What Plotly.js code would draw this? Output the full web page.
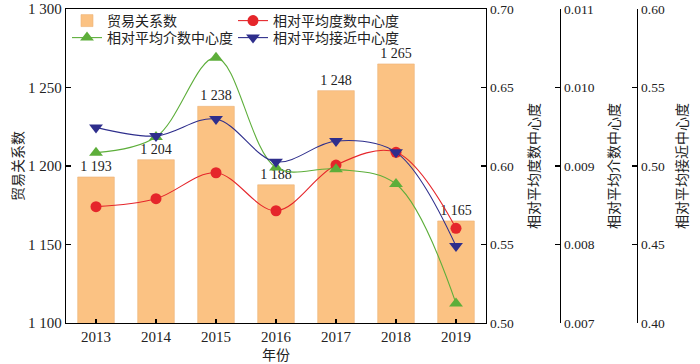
<!DOCTYPE html>
<html>
<head>
<meta charset="utf-8">
<script src="https://cdn.plot.ly/plotly-3.0.1.min.js"></script>
<style>html,body{margin:0;padding:0;background:#fff;}#chart{width:700px;height:364px;}</style>
</head>
<body>
<div id="chart"></div>
<script>
const years = ['2013','2014','2015','2016','2017','2018','2019'];
const tradeRelations = [1193, 1204, 1238, 1188, 1248, 1265, 1165];
const degreeCentrality = [0.5741, 0.5792, 0.5957, 0.5715, 0.6006, 0.6087, 0.5603];
const betweennessCentrality = [0.00917, 0.00937, 0.01038, 0.00898, 0.00896, 0.00877, 0.00725];
const closenessCentrality = [0.5246, 0.5191, 0.5299, 0.5027, 0.5159, 0.5087, 0.4490];
const leftTicks = [1100, 1150, 1200, 1250, 1300];

const fmt = v => String(v).replace(/\B(?=(\d{3})+(?!\d))/g, ' ');
const FONT = "'Liberation Serif', 'Noto Sans CJK SC', serif";
const TXT = '#222';

const traces = [
  {
    type: 'bar', x: years, y: tradeRelations, name: '贸易关系数',
    marker: {color: '#FBC283', line: {color: '#EDB277', width: 0.6}},
    width: 0.61,
    text: tradeRelations.map(fmt), textposition: 'outside', cliponaxis: false,
    textfont: {family: FONT, size: 14, color: TXT},
    legend: 'legend', yaxis: 'y'
  },
  {
    type: 'scatter', mode: 'lines+markers', x: years, y: degreeCentrality, name: '相对平均度数中心度',
    line: {color: '#E5262B', width: 1.1, shape: 'spline'},
    marker: {color: '#E5262B', size: 11, symbol: 'circle'},
    legend: 'legend', yaxis: 'y2'
  },
  {
    type: 'scatter', mode: 'lines+markers', x: years, y: betweennessCentrality, name: '相对平均介数中心度',
    line: {color: '#5DAE3A', width: 1.1, shape: 'spline'},
    marker: {color: '#5DAE3A', size: 12, symbol: 'triangle-up'},
    legend: 'legend2', yaxis: 'y3'
  },
  {
    type: 'scatter', mode: 'lines+markers', x: years, y: closenessCentrality, name: '相对平均接近中心度',
    line: {color: '#2E2E8C', width: 1.1, shape: 'spline'},
    marker: {color: '#2E2E8C', size: 12, symbol: 'triangle-down'},
    legend: 'legend2', yaxis: 'y4'
  }
];

const dom = 420 / 571;
const axisCommon = {
  showline: true, linecolor: '#000', linewidth: 1.3, ticks: 'inside', ticklen: 5,
  tickcolor: '#000', tickwidth: 1.3, showgrid: false, zeroline: false, automargin: false,
  tickfont: {family: FONT, size: 13.5, color: TXT}
};
const tfont = {family: FONT, size: 14, color: TXT};

const layout = {
  width: 700, height: 364,
  margin: {l: 66, r: 63, t: 9, b: 41, autoexpand: false},
  paper_bgcolor: '#fff', plot_bgcolor: '#fff',
  font: {family: FONT, size: 14, color: TXT},
  xaxis: Object.assign({}, axisCommon, {
    type: 'category', domain: [0, dom], mirror: true, ticklen: 4,
    tickfont: {family: FONT, size: 15, color: TXT},
    title: {text: '年份', font: tfont, standoff: 6}
  }),
  yaxis: Object.assign({}, axisCommon, {
    range: [1100, 1300], tickvals: leftTicks, ticktext: leftTicks.map(fmt),
    tickfont: {family: FONT, size: 15, color: TXT},
    title: {text: '贸易关系数', font: tfont, standoff: 1}
  }),
  yaxis2: Object.assign({}, axisCommon, {
    overlaying: 'y', side: 'right', anchor: 'x', range: [0.5, 0.7], dtick: 0.05, tick0: 0.5, tickformat: '.2f',
    title: {text: '相对平均度数中心度', font: tfont, standoff: 16}
  }),
  yaxis3: Object.assign({}, axisCommon, {
    overlaying: 'y', side: 'right', anchor: 'free', position: (560 - 66) / 571,
    range: [0.007, 0.011], dtick: 0.001, tick0: 0.007, tickformat: '.3f',
    title: {text: '相对平均介数中心度', font: tfont, standoff: 15}
  }),
  yaxis4: Object.assign({}, axisCommon, {
    overlaying: 'y', side: 'right', anchor: 'free', position: 1,
    range: [0.4, 0.6], dtick: 0.05, tick0: 0.4, tickformat: '.2f',
    title: {text: '相对平均接近中心度', font: tfont, standoff: 13}
  }),
  legend: {
    orientation: 'h', x: 1 / 571, y: 1 + 4 / 314, xanchor: 'left', yanchor: 'top',
    entrywidth: 121, bgcolor: 'rgba(0,0,0,0)', font: tfont,
    itemclick: false, traceorder: 'normal'
  },
  legend2: {
    orientation: 'h', x: 1 / 571, y: 1 - 13 / 314, xanchor: 'left', yanchor: 'top',
    entrywidth: 121, bgcolor: 'rgba(0,0,0,0)', font: tfont,
    itemclick: false, traceorder: 'normal'
  },
  showlegend: true
};

Plotly.newPlot('chart', traces, layout, {displayModeBar: false, staticPlot: true});
</script>
</body>
</html>
